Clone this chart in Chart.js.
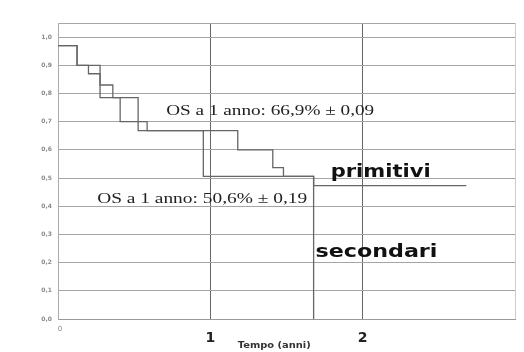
<!DOCTYPE html>
<html lang="it">
<head>
    <meta charset="UTF-8">
    <title>Sopravvivenza: primitivi vs secondari</title>
    <script src="https://cdn.jsdelivr.net/npm/chart.js"></script>
    <style>
        * { margin: 0; padding: 0; box-sizing: border-box; }
        body { background: #fff; width: 524px; height: 352px; overflow: hidden; }
        canvas { display: block; }
    </style>
</head>
<body>

    <canvas id="km-chart" width="524" height="352"></canvas>

    <script>
        // tempi (anni) e sopravvivenza
        const primitiviTime = [0, 0.125, 0.276, 0.36, 0.526, 1.18, 1.41, 1.48, 1.678, 2.68];
        const primitiviSurv = [0.97, 0.90, 0.83, 0.785, 0.668, 0.60, 0.537, 0.506, 0.473, 0.473];

        const secondariTime = [0, 0.125, 0.2, 0.276, 0.408, 0.585, 0.954, 1.678];
        const secondariSurv = [0.97, 0.90, 0.87, 0.785, 0.70, 0.668, 0.506, 0];

        const xTickValues = [0, 1, 2];
        const xTickLabels = ['0', '1', '2'];
        const xTitle = 'Tempo (anni)';

        const labelPrimitivi = 'primitivi';
        const labelSecondari = 'secondari';
        const osPrimitivi = 'OS a 1 anno: 66,9% ± 0,09';
        const osSecondari = 'OS a 1 anno: 50,6% ± 0,19';

        const toPoints = (xs, ys) => xs.map((x, i) => ({ x: x, y: ys[i] }));

        // testo allargato fino a una larghezza data
        function fitText(ctx, text, x, y, w, font, color) {
            ctx.font = font;
            const m = ctx.measureText(text).width;
            ctx.save();
            ctx.fillStyle = color;
            ctx.textBaseline = 'middle';
            ctx.textAlign = 'left';
            ctx.translate(x, y);
            ctx.scale(w / m, 1);
            ctx.fillText(text, 0, 0);
            ctx.restore();
        }

        const textPlugin = {
            id: 'testi',
            afterDraw(chart) {
                const ctx = chart.ctx;
                const xs = chart.scales.x, ys = chart.scales.y;
                const bottom = chart.chartArea.bottom;

                // etichette asse x
                xTickValues.forEach((v, i) => {
                    const px = xs.getPixelForValue(v);
                    ctx.save();
                    ctx.textAlign = 'center';
                    ctx.textBaseline = 'middle';
                    if (v === 0) {
                        ctx.font = '7px "DejaVu Sans"';
                        ctx.fillStyle = '#888';
                        ctx.fillText(xTickLabels[i], px + 2, bottom + 10);
                    } else {
                        ctx.font = 'bold 14px "DejaVu Sans"';
                        ctx.fillStyle = '#222';
                        ctx.fillText(xTickLabels[i], px, bottom + 19);
                    }
                    ctx.restore();
                });
                fitText(ctx, xTitle, xs.getPixelForValue(1.18), bottom + 27, 73, 'bold 9px "DejaVu Sans"', '#333');

                fitText(ctx, osPrimitivi, xs.getPixelForValue(0.71), ys.getPixelForValue(0.735), 208, '14px "Liberation Serif"', '#222');
                fitText(ctx, osSecondari, xs.getPixelForValue(0.257), ys.getPixelForValue(0.424), 210, '14px "Liberation Serif"', '#222');
                fitText(ctx, labelPrimitivi, xs.getPixelForValue(1.79), ys.getPixelForValue(0.519), 100, 'bold 17px "DejaVu Sans"', '#111');
                fitText(ctx, labelSecondari, xs.getPixelForValue(1.69), ys.getPixelForValue(0.237), 122, 'bold 17px "DejaVu Sans"', '#111');
            }
        };

        const chartConfig = {
            type: 'line',
            data: {
                datasets: [
                    {
                        label: labelPrimitivi,
                        data: toPoints(primitiviTime, primitiviSurv),
                        borderColor: '#666',
                        borderWidth: 1.3,
                        stepped: true,
                        pointRadius: 0,
                        fill: false
                    },
                    {
                        label: labelSecondari,
                        data: toPoints(secondariTime, secondariSurv),
                        borderColor: '#666',
                        borderWidth: 1.3,
                        stepped: true,
                        pointRadius: 0,
                        fill: false
                    }
                ]
            },
            options: {
                responsive: false,
                animation: false,
                layout: { padding: { top: 23, right: 9, left: 0, bottom: 0 } },
                plugins: {
                    legend: { display: false },
                    tooltip: { enabled: false }
                },
                scales: {
                    x: {
                        type: 'linear',
                        min: 0,
                        max: 3,
                        ticks: { display: false, stepSize: 1 },
                        grid: {
                            drawTicks: false,
                            color: (c) => {
                                const v = c.tick && c.tick.value;
                                if (v === 1 || v === 2) return '#666';
                                if (v === 3) return '#ccc';
                                return 'rgba(0,0,0,0)';
                            }
                        },
                        border: { display: true, color: '#999' },
                        afterFit: (s) => { s.height = 33; }
                    },
                    y: {
                        min: 0,
                        max: 1.05,
                        ticks: {
                            stepSize: 0.1,
                            padding: 6,
                            color: '#888',
                            font: { size: 6, weight: 'bold', family: 'DejaVu Sans' },
                            callback: (v) => v > 1.01 ? '' : v.toFixed(1).replace('.', ',')
                        },
                        grid: { drawTicks: false, color: '#a5a5a5' },
                        border: { display: true, color: '#aaa' },
                        afterFit: (s) => { s.width = 58; }
                    }
                }
            },
            plugins: [textPlugin]
        };

        const ctx = document.getElementById('km-chart').getContext('2d');
        new Chart(ctx, chartConfig);
    </script>

</body>
</html>
